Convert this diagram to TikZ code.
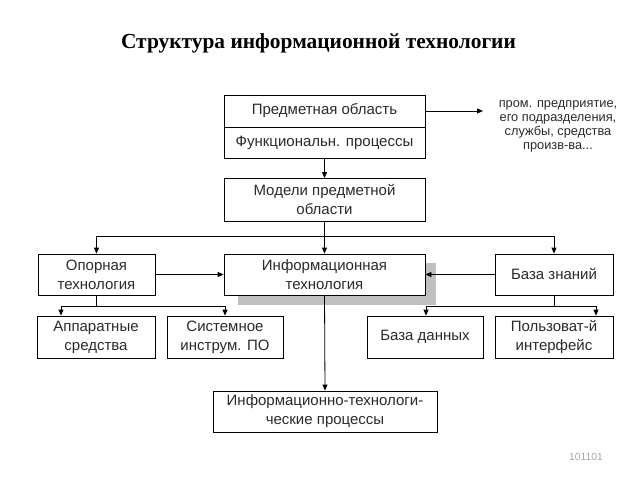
\documentclass[tikz,border=0pt]{standalone}
\usepackage{fontspec}
\setmainfont{Liberation Serif}
\newfontfamily\arialf{Liberation Sans}
\usetikzlibrary{arrows.meta}
\definecolor{txt}{HTML}{2a2a2a}
\begin{document}
\begin{tikzpicture}[x=1pt,y=-1pt,
  box/.style={draw=black, line width=0.8pt, inner sep=0pt, align=center,
    font=\arialf\fontsize{15}{19}\selectfont, text=txt},
  conn/.style={line width=0.8pt},
  arr/.style={conn, -{Triangle[length=6pt,width=5pt]}}]
\useasboundingbox (0,0) rectangle (640,480);
\node[font=\bfseries\fontsize{21.4}{25}\selectfont] (title) at (318.5,43) {Структура информационной технологии};
% top box
\node[box, minimum width=201pt, minimum height=32pt] (pred) at (324.5,111) {Предметная область};
\node[box, minimum width=201pt, minimum height=31pt] (func) at (324.5,142.5) {Функциональн. процессы};
\coordinate (promin) at (483,111);
\node[align=center, font=\arialf\fontsize{12.8}{14}\selectfont, text=txt] (prom) at (558,126) {пром. предприятие,\\его подразделения,\\службы, средства\\произв-ва...};
\node[box, minimum width=201pt, minimum height=43pt] (models) at (324.5,200) {Модели предметной\\области};
% row 2
\fill[gray!50] (238,263) rectangle (436,305);
\node[box, fill=white, minimum width=201pt, minimum height=41pt] (info) at (324.5,274.5) {Информационная\\технология};
\node[box, minimum width=117pt, minimum height=41pt] (opora) at (96.5,274.5) {Опорная\\технология};
\node[box, minimum width=118pt, minimum height=41pt] (bz) at (554,274.5) {База знаний};
% row 3
\node[box, minimum width=118pt, minimum height=42pt] (app) at (96,337) {Аппаратные\\средства};
\node[box, minimum width=116pt, minimum height=42pt] (sys) at (225,337) {Системное\\инструм. ПО};
\node[box, minimum width=116pt, minimum height=42pt] (bd) at (425,337) {База данных};
\node[box, minimum width=118pt, minimum height=42pt] (polz) at (554,337) {Пользоват-й\\интерфейс};
\node[box, minimum width=224pt, minimum height=41pt] (itp) at (325,411.5) {Информационно-технологи-\\ческие процессы};
\node[font=\arialf\fontsize{10.3}{11}\selectfont, text=gray!70] (num) at (586,457) {101101};
% connectors
\draw[arr] (pred.east) -- (promin);
\draw[arr] (func.south) -- (models.north);
\coordinate (hub) at (324.5,236);
\draw[conn] (models.south) -- (hub);
\draw[arr] (hub) -| (opora.north);
\draw[arr] (hub) -| (bz.north);
\draw[arr] (hub) -- (info.north);
\draw[arr] (opora.east) -- (info.west |- opora.east);
\draw[arr] (bz.west) -- (info.east |- bz.west);
\coordinate (ojoin) at (96.5,306);
\coordinate (oleft) at (61,306);
\coordinate (oright) at (225,306);
\draw[conn] (opora.south) -- (ojoin);
\draw[conn] (oleft) -- (oright);
\draw[arr] (oleft) -- (oleft |- app.north);
\draw[arr] (oright) -- (oright |- sys.north);
\coordinate (bjoin) at (554,306);
\coordinate (bleft) at (426,306);
\coordinate (bright) at (596,306);
\draw[conn] (bz.south) -- (bjoin);
\draw[conn] (bleft) -- (bright);
\draw[arr] (bleft) -- (bleft |- bd.north);
\draw[arr] (bright) -- (bright |- polz.north);
\draw[arr] (info.south) -- (itp.north);
\end{tikzpicture}
\end{document}
